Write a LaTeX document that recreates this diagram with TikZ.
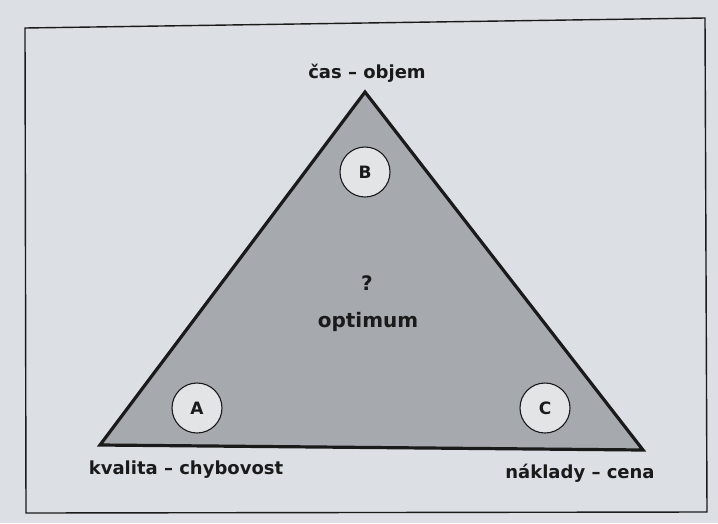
\documentclass[tikz,border=0pt]{standalone}
\usepackage{fontspec}
\setmainfont{DejaVu Sans}
\definecolor{paper}{HTML}{DCE0E4}
\definecolor{trifill}{HTML}{A6A9AD}
\definecolor{circfill}{HTML}{E2E4E6}
\definecolor{ink}{HTML}{1A1A1A}
\begin{document}
\begin{tikzpicture}[x=1pt,y=-1pt,
  lbl/.style={font=\fontsize{18}{22}\selectfont\bfseries, text=ink, inner sep=0pt},
  corner/.style={circle, draw=ink, line width=1.1pt, fill=circfill, minimum size=50pt, inner sep=0pt, font=\fontsize{17}{20}\selectfont\bfseries, text=ink}]
\fill[paper] (0,0) rectangle (718,523);
\useasboundingbox (0,0) rectangle (718,523);
% frame
\draw[ink, line width=1.4pt] (25,28) -- (705,18) -- (707,512) -- (26,513) -- cycle;
% triangle
\coordinate (T) at (365,92);
\coordinate (L) at (100,445);
\coordinate (R) at (643,450);
\draw[ink, line width=3.2pt, line join=miter, fill=trifill] (T) -- (R) -- (L) -- cycle;
\node[corner] (B) at (365,172) {B};
\node[corner] (A) at (197,408) {A};
\node[corner] (C) at (545,408) {C};
\node[lbl, font=\fontsize{20}{24}\selectfont\bfseries] (q) at (367,283) {?};
\node[lbl, font=\fontsize{20}{24}\selectfont\bfseries] (opt) at (368,322) {optimum};
\node[lbl] (top) at (367,73) {čas – objem};
\node[lbl] (kc) at (186,470) {kvalita – chybovost};
\node[lbl] (nc) at (580,473) {náklady – cena};
\end{tikzpicture}
\end{document}
